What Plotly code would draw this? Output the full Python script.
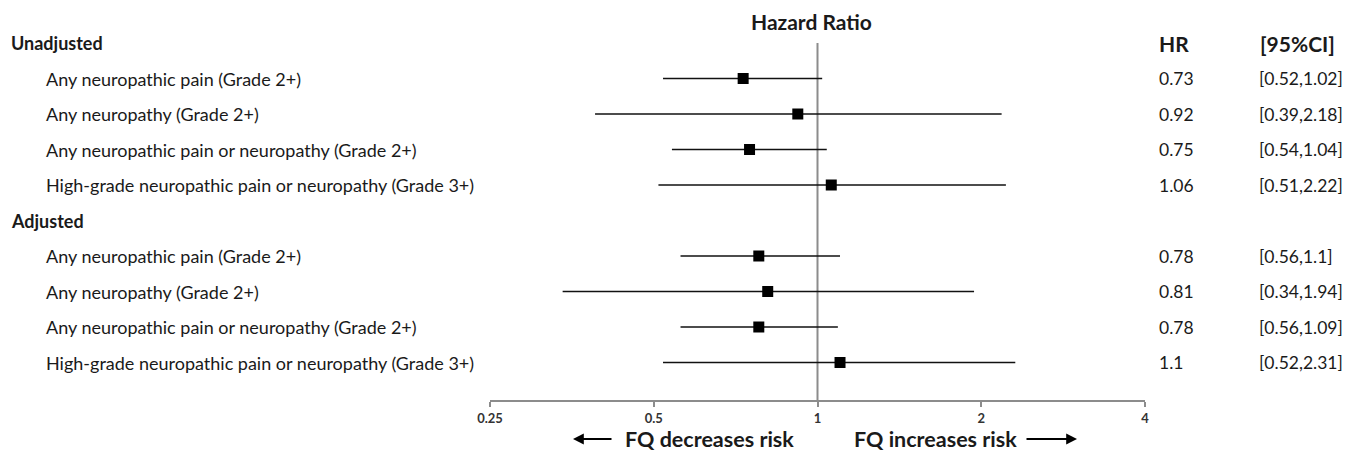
import plotly.graph_objects as go

# ---- data ----
groups = ["Unadjusted", "Adjusted"]
outcomes = [
    "Any neuropathic pain (Grade 2+)",
    "Any neuropathy (Grade 2+)",
    "Any neuropathic pain or neuropathy (Grade 2+)",
    "High-grade neuropathic pain or neuropathy (Grade 3+)",
]
hr_unadj = [0.73, 0.92, 0.75, 1.06]
lo_unadj = [0.52, 0.39, 0.54, 0.51]
hi_unadj = [1.02, 2.18, 1.04, 2.22]
hr_adj = [0.78, 0.81, 0.78, 1.1]
lo_adj = [0.56, 0.34, 0.56, 0.52]
hi_adj = [1.1, 1.94, 1.09, 2.31]
tick_vals = [0.25, 0.5, 1, 2, 4]
tick_text = ["0.25", "0.5", "1", "2", "4"]

FONT = "Lato"
TXT = "#1a1a1a"

rows = []  # (y_index, label, hr, lo, hi)
for g, (hrs, los, his) in enumerate([(hr_unadj, lo_unadj, hi_unadj), (hr_adj, lo_adj, hi_adj)]):
    base = g * 5
    for k in range(4):
        rows.append((base + 1 + k, outcomes[k], hrs[k], los[k], his[k]))

# page offset (default body margin of the html page)
OFF = 8
PAGE_W, PAGE_H = 1355, 452
W, H = PAGE_W - OFF, PAGE_H - OFF
plot_x0, plot_x1 = 490, 1145          # page px of 0.25 and 4
plot_y0, plot_y1 = OFF, 400           # page px of plot top / x-axis
L = plot_x0 - OFF
R = W - (plot_x1 - OFF)
T = 0
B = H - (plot_y1 - OFF)
plot_w = plot_x1 - plot_x0
plot_h = plot_y1 - plot_y0
row0_px, row_h = 43.0, 35.5
y_range = [(plot_y1 - row0_px) / row_h, (plot_y0 - row0_px) / row_h]


def px2paper(px):
    return (px - plot_x0) / plot_w


def py2paper(py):
    return 1 - (py - plot_y0) / plot_h


fig = go.Figure()

# CI lines
xs, ys = [], []
for yi, lab, hr, lo, hi in rows:
    xs += [lo, hi, None]
    ys += [yi, yi, None]
fig.add_trace(go.Scatter(x=xs, y=ys, mode="lines",
                         line=dict(color="#111111", width=1.6),
                         hoverinfo="skip", showlegend=False))
# point estimates
fig.add_trace(go.Scatter(x=[r[2] for r in rows], y=[r[0] for r in rows], mode="markers",
                         marker=dict(symbol="square", size=11, color="black"),
                         showlegend=False))

# reference line at HR=1
fig.add_shape(type="line", xref="x", yref="y", x0=1, x1=1, y0=0, y1=y_range[0],
              line=dict(color="#8c8c8c", width=2), layer="below")

ann = []
for g, name in enumerate(groups):
    ann.append(dict(x=px2paper(9), xref="paper", y=g * 5, yref="y", text="<b>%s</b>" % name,
                    xanchor="left", yanchor="middle", showarrow=False,
                    font=dict(family=FONT, size=18, color=TXT)))
for yi, lab, hr, lo, hi in rows:
    ann.append(dict(x=px2paper(44), xref="paper", y=yi, yref="y", text=lab,
                    xanchor="left", yanchor="middle", showarrow=False,
                    font=dict(family=FONT, size=18, color=TXT)))
    ann.append(dict(x=px2paper(1157), xref="paper", y=yi, yref="y", text=f"{hr:g}",
                    xanchor="left", yanchor="middle", showarrow=False,
                    font=dict(family=FONT, size=17.5, color=TXT)))
    ann.append(dict(x=px2paper(1257), xref="paper", y=yi, yref="y", text=f"[{lo:g},{hi:g}]",
                    xanchor="left", yanchor="middle", showarrow=False,
                    font=dict(family=FONT, size=17.5, color=TXT)))
ann.append(dict(x=px2paper(1157), xref="paper", y=0, yref="y", text="<b>HR</b>",
                xanchor="left", yanchor="middle", showarrow=False,
                font=dict(family=FONT, size=21, color=TXT)))
ann.append(dict(x=px2paper(1258), xref="paper", y=0, yref="y", text="<b>[95%CI]</b>",
                xanchor="left", yanchor="middle", showarrow=False,
                font=dict(family=FONT, size=21, color=TXT)))
ann.append(dict(x=px2paper(811), xref="paper", y=py2paper(21), yref="paper",
                text="<b>Hazard Ratio</b>", xanchor="center", yanchor="middle", showarrow=False,
                font=dict(family=FONT, size=21, color=TXT)))
yb = py2paper(439)
ann.append(dict(x=px2paper(623), xref="paper", y=yb, yref="paper", text="<b>FQ decreases risk</b>",
                xanchor="left", yanchor="middle", showarrow=False,
                font=dict(family=FONT, size=21.5, color=TXT)))
ann.append(dict(x=px2paper(852), xref="paper", y=yb, yref="paper", text="<b>FQ increases risk</b>",
                xanchor="left", yanchor="middle", showarrow=False,
                font=dict(family=FONT, size=21.5, color=TXT)))
ann.append(dict(x=px2paper(573), xref="paper", y=yb, yref="paper", ax=40, ay=0,
                axref="pixel", ayref="pixel", text="", showarrow=True,
                arrowhead=2, arrowsize=1.2, arrowwidth=1.8, arrowcolor="black"))
ann.append(dict(x=px2paper(1077), xref="paper", y=yb, yref="paper", ax=-52, ay=0,
                axref="pixel", ayref="pixel", text="", showarrow=True,
                arrowhead=2, arrowsize=1.2, arrowwidth=1.8, arrowcolor="black"))

fig.update_layout(
    width=W, height=H,
    margin=dict(l=L, r=R, t=T, b=B, pad=0),
    paper_bgcolor="white", plot_bgcolor="white",
    annotations=ann,
    xaxis=dict(type="log", range=[-0.6020600, 0.6020600],
               tickvals=tick_vals, ticktext=tick_text,
               showline=True, linecolor="#8c8c8c", linewidth=2,
               ticks="outside", ticklen=5, tickcolor="#8c8c8c", tickwidth=1.5,
               showgrid=False, zeroline=False,
               tickfont=dict(family=FONT, size=13, color="#333333", weight="bold")),
    yaxis=dict(range=y_range, visible=False, showgrid=False, zeroline=False),
)

fig.write_html("out.html")
